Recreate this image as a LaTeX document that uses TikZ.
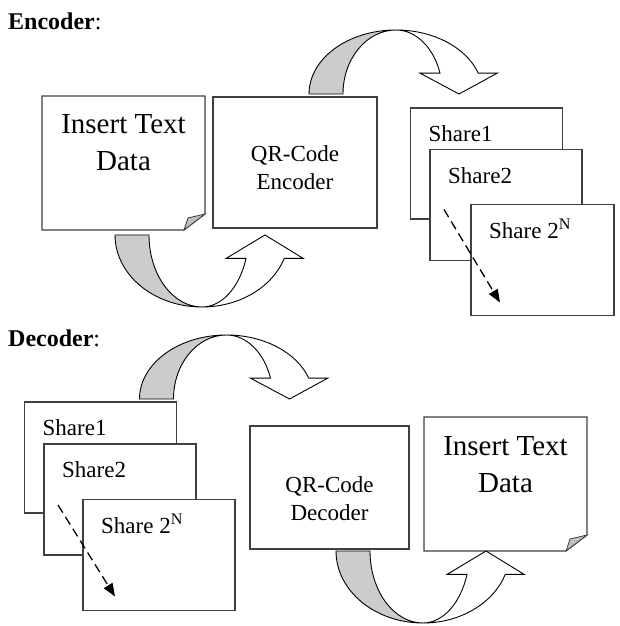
\documentclass[tikz,border=0pt]{standalone}
\usepackage{fontspec}
\setmainfont{Liberation Serif}
\usetikzlibrary{arrows.meta}
\definecolor{boxline}{gray}{0.25}
\definecolor{bandgray}{gray}{0.8}
\definecolor{foldgray}{gray}{0.75}
\tikzset{
  bentarrow/.pic={
    \filldraw[fill=bandgray,draw=black,line width=0.9pt] (0,0)
      arc[start angle=180,end angle=90,x radius=87,y radius=64]
      arc[start angle=90,end angle=180,x radius=53,y radius=64] -- cycle;
    \filldraw[fill=white,draw=black,line width=0.9pt] (87,64)
      arc[start angle=90,end angle=19,x radius=87,y radius=64]
      -- ++(19,0) -- (150,0) -- (111,20.84) -- (131,20.84)
      arc[start angle=19,end angle=90,x radius=46.6,y radius=64] -- cycle;
  }
}
\begin{document}
\begin{tikzpicture}[x=1pt,y=1pt,
    sharebox/.style={draw=boxline,fill=white,line width=1.1pt,inner sep=0pt,
      outer sep=0pt,minimum width=152pt,minimum height=111pt},
    qrbox/.style={draw=boxline,fill=white,line width=1.1pt,inner sep=0pt,outer sep=0pt},
    docarea/.style={inner sep=0pt,outer sep=0pt,minimum width=163pt,minimum height=134pt},
    head/.style={font=\fontsize{24}{28}\selectfont,inner sep=0pt},
    lbl/.style={font=\fontsize{23}{28}\selectfont,inner sep=0pt,align=center},
    bigtxt/.style={font=\fontsize{29}{37}\selectfont,inner sep=0pt,align=center},
    dasharr/.style={line width=1.3pt,dash pattern=on 9pt off 5pt,
      -{Triangle[length=13pt,width=10pt]}}]
  \useasboundingbox (0,0) rectangle (619,626);

  % encoder
  \node[head,anchor=base west] (enchead) at (8,596) {\textbf{Encoder}:};
  \node[docarea] (edoc) at (123.5,463) {};
  \node[qrbox,minimum width=164pt,minimum height=131pt] (eqr) at (295,463.5) {};
  \node[sharebox] (es1) at (486.5,462.5) {};
  \node[sharebox] (es2) at (506,421) {};
  \node[sharebox,minimum width=143pt] (es3) at (542.5,366) {};

  % decoder
  \node[head,anchor=base west] (dechead) at (8,279) {\textbf{Decoder}:};
  \node[sharebox] (ds1) at (100.5,168.5) {};
  \node[sharebox] (ds2) at (120,126.5) {};
  \node[sharebox] (ds3) at (159,71) {};
  \node[qrbox,minimum width=159pt,minimum height=123pt] (dqr) at (329.5,138.5) {};
  \node[docarea] (ddoc) at (505.5,142) {};

  % documents with folded corner
  \foreach \d in {edoc,ddoc} {
    \filldraw[fill=white,draw=boxline,line width=1.1pt] (\d.north west) -- (\d.north east)
      -- ([yshift=16pt]\d.south east) -- ([xshift=-21pt]\d.south east)
      -- (\d.south west) -- cycle;
    \filldraw[fill=foldgray,draw=boxline,line width=0.8pt] ([xshift=-21pt]\d.south east)
      -- ([shift={(-17pt,12pt)}]\d.south east) -- ([yshift=16pt]\d.south east) -- cycle;
  }

  % texts (base = last line)
  \node[bigtxt,anchor=base] (edoct) at ([yshift=-75pt]edoc.north) {Insert Text\\Data};
  \node[bigtxt,anchor=base] (ddoct) at ([yshift=-76pt]ddoc.north) {Insert Text\\Data};
  \node[lbl,anchor=base] (eqrt) at ([yshift=-93pt]eqr.north) {QR-Code\\Encoder};
  \node[lbl,anchor=base] (dqrt) at ([yshift=-95pt]dqr.north) {QR-Code\\Decoder};
  \foreach \s/\t in {es1/Share1,es2/Share2,es3/Share 2\textsuperscript{N},
                     ds1/Share1,ds2/Share2,ds3/Share 2\textsuperscript{N}} {
    \node[lbl,anchor=base west] (\s t) at ([shift={(18pt,-34pt)}]\s.north west) {\t};
  }

  % bent arrows
  \pic at ([shift={(96pt,3pt)}]eqr.north west) {bentarrow};
  \pic[yscale=-1.125] at ([shift={(73pt,-5pt)}]edoc.south west) {bentarrow};
  \pic at ([shift={(115pt,3pt)}]ds1.north west) {bentarrow};
  \pic[yscale=-1.125] at ([shift={(86pt,-2pt)}]dqr.south west) {bentarrow};

  % dashed arrows through the shares
  \coordinate (ea0) at ([shift={(14pt,51pt)}]es2.south west);
  \coordinate (ea1) at ([shift={(29pt,13pt)}]es3.south west);
  \coordinate (da0) at ([shift={(14pt,50pt)}]ds2.south west);
  \coordinate (da1) at ([shift={(32pt,14pt)}]ds3.south west);
  \draw[dasharr] (ea0) -- (ea1);
  \draw[dasharr] (da0) -- (da1);
\end{tikzpicture}
\end{document}
